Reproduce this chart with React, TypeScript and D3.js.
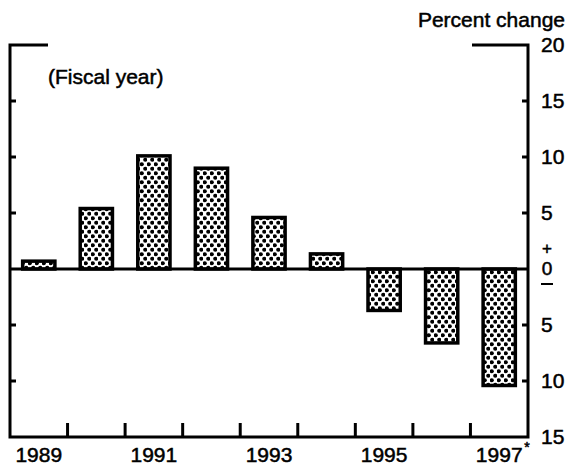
import React from "react";
import * as d3 from "d3";

const years = ["1989", "1990", "1991", "1992", "1993", "1994", "1995", "1996", "1997"];
const values = [0.7, 5.4, 10.1, 9.0, 4.6, 1.35, -3.7, -6.6, -10.4];
const yTicks = [20, 15, 10, 5, -5, -10, -15];
const innerTicks = [15, 10, 5, -5, -10];
const labelYears = ["1989", "1991", "1993", "1995", "1997"];

const App = () => {
  const width = 573;
  const height = 473;
  const left = 10;
  const right = 528;
  const top = 45;
  const bottom = 437;

  const xScale = d3
    .scaleBand()
    .domain(years)
    .range([left, right])
    .paddingInner(0.44)
    .paddingOuter(0.22);

  const yScale = d3.scaleLinear().domain([-15, 20]).range([bottom, top]);

  const step = xScale.step();
  const bw = xScale.bandwidth();
  const gap = (step - bw) / 2;
  const font = "'Liberation Sans', Arial, Helvetica, sans-serif";
  const z = yScale(0);

  return (
    <svg
      width={width}
      height={height}
      style={{ position: "absolute", left: 0, top: 0, background: "#fff" }}
      fontFamily={font}
    >
      <defs>
        <pattern id="dots" width={7} height={9} patternUnits="userSpaceOnUse">
          <rect width={7} height={9} fill="#fff" />
          <circle cx={1.75} cy={2.25} r={2.1} fill="#000" />
          <circle cx={5.25} cy={6.75} r={2.1} fill="#000" />
        </pattern>
      </defs>

      {/* bars */}
      <g>
        {values.map((v, i) => (
          <rect
            key={years[i]}
            x={xScale(years[i])}
            y={yScale(Math.max(0, v))}
            width={bw}
            height={Math.abs(yScale(v) - z)}
            fill="url(#dots)"
            stroke="#000"
            strokeWidth={3.5}
          />
        ))}
      </g>

      {/* zero line */}
      <line x1={left} x2={right} y1={z} y2={z} stroke="#000" strokeWidth={3} />

      {/* frame */}
      <path
        d={`M${left + 38},${top} H${left} V${bottom} H${right} V${top} H${right - 56}`}
        fill="none"
        stroke="#000"
        strokeWidth={3}
      />

      {/* left / right inner ticks */}
      {innerTicks.map((t) => (
        <g key={t}>
          <line x1={left} x2={left + 6} y1={yScale(t)} y2={yScale(t)} stroke="#000" strokeWidth={3} />
          <line x1={right - 6} x2={right} y1={yScale(t)} y2={yScale(t)} stroke="#000" strokeWidth={3} />
        </g>
      ))}

      {/* bottom ticks between years */}
      {years.slice(1).map((yr) => {
        const x = (xScale(yr) as number) - gap;
        return <line key={yr} x1={x} x2={x} y1={bottom} y2={bottom - 14} stroke="#000" strokeWidth={3} />;
      })}

      <g stroke="#000" strokeWidth={0.5}>
        {/* year labels */}
        {labelYears.map((yr) => {
          const cx = (xScale(yr) as number) + bw / 2;
          return (
            <g key={yr}>
              <text x={cx} y={462} textAnchor="middle" fontSize={21}>
                {yr}
              </text>
              {yr === "1997" && (
                <text x={cx + 25} y={452} fontSize={14}>
                  *
                </text>
              )}
            </g>
          );
        })}

        {/* right axis labels */}
        {yTicks.map((t) => (
          <text key={t} x={541} y={yScale(t) + 7} fontSize={21}>
            {Math.abs(t)}
          </text>
        ))}
        <text x={547} y={z - 15} fontSize={17} textAnchor="middle">
          +
        </text>
        <text x={547} y={z + 6} fontSize={19} textAnchor="middle">
          0
        </text>

        <text x={565} y={27} fontSize={21} textAnchor="end">
          Percent change
        </text>
        <text x={48} y={84} fontSize={21}>
          (Fiscal year)
        </text>
      </g>
      <line x1={541} x2={553} y1={z + 15} y2={z + 15} stroke="#000" strokeWidth={2} />
    </svg>
  );
};

export default App;
